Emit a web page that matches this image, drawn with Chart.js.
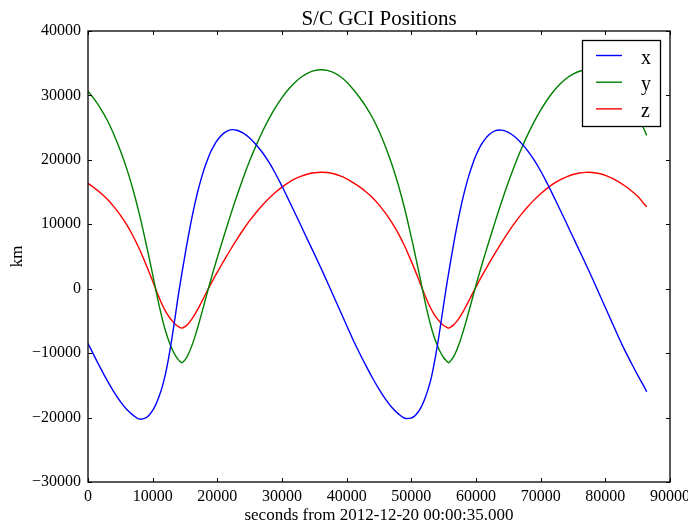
<!DOCTYPE html>
<html>
<head>
<meta charset="utf-8">
<script src="https://cdn.jsdelivr.net/npm/chart.js@4.4.1/dist/chart.umd.min.js"></script>
<style>
  html, body { margin: 0; padding: 0; background: #fff; }
  canvas { display: block; }
</style>
</head>
<body>
<canvas id="chart" width="688" height="526"></canvas>
<script>
// seconds from 2012-12-20 00:00:35.000
const times = [
  0, 1000, 2000, 3000, 4000, 5000, 6000, 7000, 8000, 9000, 9500, 10000, 10500, 11000, 11500, 12000,
  12500, 13000, 13500, 14000, 14500, 15000, 15500, 16000, 16500, 17000, 17500, 18000, 18500, 19000,
  19500, 20000, 21000, 22000, 23000, 24000, 25000, 26000, 27000, 28000, 29000, 30000, 31000, 32000,
  33000, 34000, 35000, 36000, 37000, 38000, 39000, 40000, 41000, 42000, 43000, 44000, 45000, 46000,
  47000, 48000, 49000, 50000, 50500, 51000, 51500, 52000, 52500, 53000, 53500, 54000, 54500, 55000,
  55500, 55750, 56000, 56500, 57000, 57500, 58000, 58500, 59000, 59500, 60000, 60500, 61000, 62000,
  63000, 64000, 65000, 66000, 67000, 68000, 69000, 70000, 71000, 72000, 73000, 74000, 75000, 76000,
  77000, 78000, 79000, 80000, 81000, 82000, 83000, 84000, 85000, 86000, 86400
];

const posX = [
  -8500, -10500, -12450, -14300, -16000, -17500, -18750, -19650, -20250, -20000, -19550, -18900, -17950, -16700, -15150, -13150,
  -10550, -7550, -4200, -800, 2250, 5230, 8050, 10700, 13050, 15200, 17030, 18700, 20070, 21300,
  22230, 23050, 24150, 24650, 24600, 24150, 23400, 22350, 21100, 19600, 17850, 15900, 13850, 11750,
  9650, 7500, 5400, 3250, 1050, -1200, -3450, -5700, -7950, -10020, -11980, -13860, -15590, -17140,
  -18450, -19430, -20110, -20060, -19770, -19210, -18410, -17300, -15890, -14190, -11800, -8990, -5810, -2430,
  790, 2300, 3800, 6700, 9430, 11920, 14170, 16150, 17900, 19410, 20710, 21780, 22660, 23890,
  24530, 24610, 24260, 23580, 22600, 21400, 19960, 18270, 16370, 14340, 12250, 10150, 8020, 5900,
  3770, 1580, -660, -2910, -5160, -7410, -9540, -11510, -13410, -15200, -16000
];

const posY = [
  30640, 29380, 27880, 26100, 23950, 21450, 18600, 15250, 11350, 6900, 4600, 2200, -250, -2600, -4750, -6600,
  -8100, -9350, -10350, -11050, -11480, -11050, -10200, -9000, -7550, -5900, -4100, -2250, -400, 1400,
  3150, 4850, 8100, 11300, 14350, 17200, 19850, 22250, 24440, 26400, 28140, 29650, 30950, 32020,
  32860, 33470, 33840, 33990, 33890, 33540, 32940, 32070, 30950, 29680, 28240, 26530, 24470, 22050,
  19280, 16050, 12290, 7970, 5700, 3350, 930, -1470, -3720, -5710, -7380, -8750, -9870, -10710,
  -11270, -11480, -11260, -10610, -9580, -8250, -6690, -4960, -3140, -1290, 540, 2310, 4030, 7320,
  10530, 13620, 16520, 19210, 21670, 23910, 25930, 27720, 29290, 30640, 31760, 32660, 33320, 33750,
  33950, 33910, 33620, 33080, 32280, 31220, 29980, 28600, 26950, 24700, 23800
];

const posZ = [
  16350, 15630, 14830, 13890, 12740, 11410, 9900, 8110, 6040, 3670, 2450, 1170, -130, -1380, -2530, -3510,
  -4310, -4970, -5510, -5880, -6110, -5880, -5430, -4790, -4020, -3140, -2180, -1200, -210, 740,
  1680, 2580, 4310, 6010, 7630, 9150, 10560, 11840, 13000, 14040, 14970, 15770, 16470, 17030,
  17480, 17810, 18000, 18080, 18030, 17840, 17520, 17060, 16470, 15800, 15020, 14120, 13020, 11730,
  10260, 8540, 6540, 4240, 3040, 1780, 490, -780, -1980, -3040, -3930, -4650, -5250, -5700,
  -6000, -6110, -5990, -5650, -5100, -4390, -3560, -2640, -1670, -690, 280, 1230, 2150, 3890,
  5600, 7240, 8790, 10220, 11530, 12720, 13790, 14750, 15580, 16300, 16900, 17370, 17730, 17950,
  18060, 18040, 17890, 17600, 17170, 16610, 15980, 15210, 14340, 13150, 12700
];

const xTicks = [0, 10000, 20000, 30000, 40000, 50000, 60000, 70000, 80000, 90000];
const yTicks = [-30000, -20000, -10000, 0, 10000, 20000, 30000, 40000];

const serif = '"Liberation Serif", "Times New Roman", serif';

function series(label, values, color) {
  return {
    label: label,
    data: times.map((t, i) => ({ x: t, y: values[i] })),
    borderColor: color,
    borderWidth: 1.4,
    pointRadius: 0,
    fill: false,
    tension: 0.4
  };
}

function fmt(v) {
  return v < 0 ? '\u2212' + Math.abs(v) : String(v);
}

// frame, inward ticks, title, axis labels and legend, matplotlib style
const decor = {
  id: 'decor',
  afterDraw(chart) {
    const { ctx, chartArea: a, scales } = chart;
    ctx.save();
    ctx.strokeStyle = '#000';
    ctx.lineWidth = 1;
    ctx.beginPath();
    xTicks.forEach(v => {
      const px = Math.round(scales.x.getPixelForValue(v)) + 0.5;
      ctx.moveTo(px, a.bottom); ctx.lineTo(px, a.bottom - 4);
      ctx.moveTo(px, a.top); ctx.lineTo(px, a.top + 4);
    });
    yTicks.forEach(v => {
      const py = Math.round(scales.y.getPixelForValue(v)) + 0.5;
      ctx.moveTo(a.left, py); ctx.lineTo(a.left + 4, py);
      ctx.moveTo(a.right, py); ctx.lineTo(a.right - 4, py);
    });
    ctx.stroke();
    ctx.lineWidth = 1.3;
    ctx.strokeRect(a.left, a.top, a.right - a.left, a.bottom - a.top);

    ctx.fillStyle = '#000';
    ctx.textAlign = 'center';
    ctx.textBaseline = 'alphabetic';
    ctx.font = '21px ' + serif;
    ctx.fillText('S/C GCI Positions', (a.left + a.right) / 2, 25);
    ctx.font = '17px ' + serif;
    ctx.fillText('seconds from 2012-12-20 00:00:35.000', (a.left + a.right) / 2, 520);
    ctx.save();
    ctx.translate(18, (a.top + a.bottom) / 2);
    ctx.rotate(-Math.PI / 2);
    ctx.textBaseline = 'middle';
    ctx.fillText('km', 0, 0);
    ctx.restore();

    // legend
    const bx = 582.5, by = 40.5, bw = 78, bh = 86;
    ctx.fillStyle = '#fff';
    ctx.fillRect(bx, by, bw, bh);
    ctx.lineWidth = 1.3;
    ctx.strokeStyle = '#000';
    ctx.strokeRect(bx, by, bw, bh);
    ctx.font = '20px ' + serif;
    ctx.textAlign = 'left';
    chart.data.datasets.forEach((ds, i) => {
      const ly = 55.5 + i * 26.7;
      ctx.strokeStyle = ds.borderColor;
      ctx.lineWidth = 1.4;
      ctx.beginPath();
      ctx.moveTo(596, ly);
      ctx.lineTo(622, ly);
      ctx.stroke();
      ctx.fillStyle = '#000';
      ctx.fillText(ds.label, 641, ly + 8);
    });
    ctx.restore();
  }
};

new Chart(document.getElementById('chart'), {
  type: 'line',
  data: {
    datasets: [
      series('x', posX, '#0000ff'),
      series('y', posY, '#008000'),
      series('z', posZ, '#ff0000')
    ]
  },
  options: {
    responsive: false,
    animation: false,
    devicePixelRatio: 1,
    layout: { autoPadding: false, padding: { left: 0, right: 18, top: 31, bottom: 0 } },
    plugins: { legend: { display: false }, tooltip: { enabled: false } },
    scales: {
      x: {
        type: 'linear',
        min: 0,
        max: 90000,
        grid: { display: false, drawTicks: false },
        border: { display: false },
        ticks: {
          stepSize: 10000,
          padding: 5,
          maxRotation: 0,
          color: '#000',
          font: { family: serif, size: 16 },
          callback: v => fmt(v)
        },
        afterFit: s => { s.height = 44; s.paddingLeft = 0; s.paddingRight = 0; }
      },
      y: {
        min: -30000,
        max: 40000,
        grid: { display: false, drawTicks: false },
        border: { display: false },
        ticks: {
          stepSize: 10000,
          padding: 7,
          color: '#000',
          font: { family: serif, size: 16 },
          callback: v => fmt(v)
        },
        afterFit: s => { s.width = 88; s.paddingTop = 0; s.paddingBottom = 0; }
      }
    }
  },
  plugins: [decor]
});
</script>
</body>
</html>
